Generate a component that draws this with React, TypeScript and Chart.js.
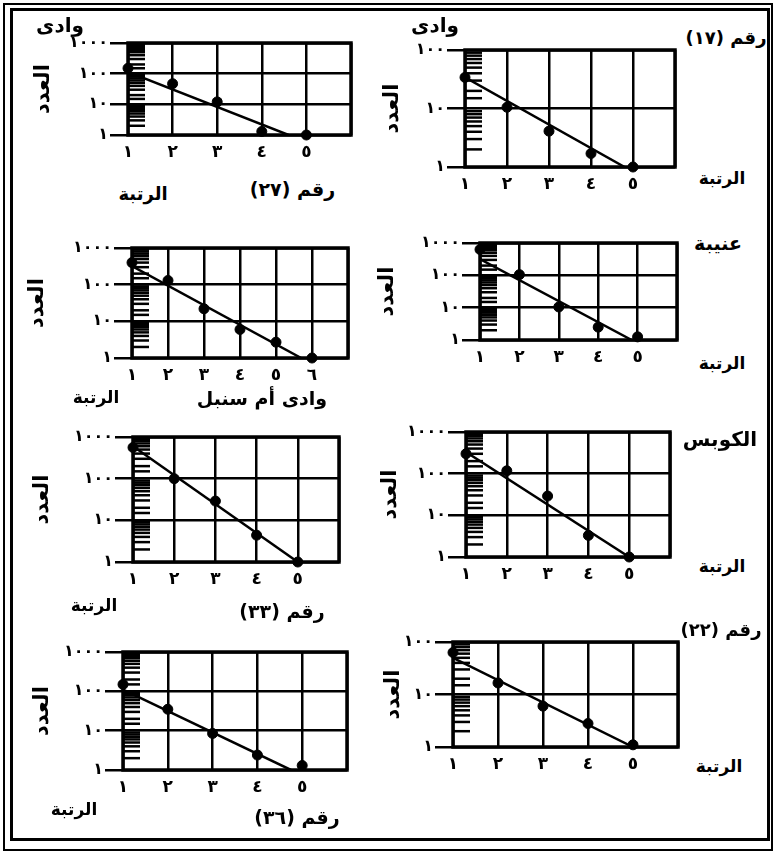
import React, { useEffect, useRef } from "react";
import { Chart, registerables } from "chart.js";

Chart.register(...registerables);

const FONT = '"DejaVu Sans", sans-serif';

// ---------- data ----------
const ranks5 = [1, 2, 3, 4, 5];
const ranks6 = [1, 2, 3, 4, 5, 6];

const no27Counts = [150, 47, 12, 1.3, 1];
const no27FitRanks = [1, 4.6];
const no27FitCounts = [115, 1];

const no17Counts = [34, 10.5, 4.1, 1.7, 1];
const no17FitRanks = [1, 4.8];
const no17FitCounts = [34, 1];

const umSinbilCounts = [400, 130, 22, 6, 2.7, 1];
const umSinbilFitRanks = [1, 5.7];
const umSinbilFitCounts = [320, 1];

const unaibaCounts = [630, 105, 10.5, 2.5, 1.25];
const unaibaFitRanks = [1, 4.85];
const unaibaFitCounts = [320, 1];

const no33Counts = [560, 100, 29, 4.4, 1];
const no33FitRanks = [1, 5];
const no33FitCounts = [600, 1];

const kubsCounts = [300, 117, 29, 3.3, 1];
const kubsFitRanks = [1, 5];
const kubsFitCounts = [330, 1];

const no36Counts = [150, 35, 8.5, 2.4, 1.3];
const no36FitRanks = [1, 4.75];
const no36FitCounts = [110, 1];

const no22Counts = [63, 16.6, 6, 2.8, 1.1];
const no22FitRanks = [1, 5];
const no22FitCounts = [50, 1];

const yAxisTitle = "العدد";
const xAxisTitle = "الرتبة";

// ---------- layout ----------
const PAD_T = 14;
const PAD_R = 8;
const XH = 36;

type PanelCfg = {
  ranks: number[];
  counts: number[];
  fitRanks: number[];
  fitCounts: number[];
  yMax: number;
  xMax: number;
  l: number;
  t: number;
  r: number;
  b: number;
  dist: number;
};

const panels: PanelCfg[] = [
  { ranks: ranks5, counts: no27Counts, fitRanks: no27FitRanks, fitCounts: no27FitCounts, yMax: 1000, xMax: 6, l: 128, t: 43, r: 351, b: 135, dist: 85 },
  { ranks: ranks5, counts: no17Counts, fitRanks: no17FitRanks, fitCounts: no17FitCounts, yMax: 100, xMax: 6, l: 465, t: 50, r: 675, b: 167, dist: 73 },
  { ranks: ranks6, counts: umSinbilCounts, fitRanks: umSinbilFitRanks, fitCounts: umSinbilFitCounts, yMax: 1000, xMax: 7, l: 132, t: 248, r: 348, b: 358, dist: 95 },
  { ranks: ranks5, counts: unaibaCounts, fitRanks: unaibaFitRanks, fitCounts: unaibaFitCounts, yMax: 1000, xMax: 6, l: 480, t: 243, r: 677, b: 340, dist: 93 },
  { ranks: ranks5, counts: no33Counts, fitRanks: no33FitRanks, fitCounts: no33FitCounts, yMax: 1000, xMax: 6, l: 133, t: 437, r: 339, b: 562, dist: 91 },
  { ranks: ranks5, counts: kubsCounts, fitRanks: kubsFitRanks, fitCounts: kubsFitCounts, yMax: 1000, xMax: 6, l: 466, t: 432, r: 670, b: 557, dist: 76 },
  { ranks: ranks5, counts: no36Counts, fitRanks: no36FitRanks, fitCounts: no36FitCounts, yMax: 1000, xMax: 6, l: 123, t: 652, r: 347, b: 770, dist: 81 },
  { ranks: ranks5, counts: no22Counts, fitRanks: no22FitRanks, fitCounts: no22FitCounts, yMax: 100, xMax: 6, l: 453, t: 642, r: 678, b: 747, dist: 60 },
];

const texts = [
  { text: "وادى", left: 35, top: 12, width: 50, height: 26, size: 20 },
  { text: "رقم (٢٧)", left: 245, top: 175, width: 95, height: 28, size: 19 },
  { text: xAxisTitle, left: 112, top: 181, width: 62, height: 26, size: 18 },

  { text: "وادى", left: 393, top: 12, width: 84, height: 26, size: 20 },
  { text: "رقم (١٧)", left: 684, top: 24, width: 84, height: 28, size: 18 },
  { text: xAxisTitle, left: 698, top: 166, width: 48, height: 24, size: 17 },

  { text: xAxisTitle, left: 72, top: 384, width: 48, height: 26, size: 17 },
  { text: "وادى أم سنبل", left: 178, top: 383, width: 168, height: 30, size: 19 },

  { text: "عنيبة", left: 690, top: 230, width: 56, height: 26, size: 19 },
  { text: xAxisTitle, left: 698, top: 351, width: 48, height: 24, size: 17 },

  { text: xAxisTitle, left: 70, top: 593, width: 48, height: 24, size: 17 },
  { text: "رقم (٣٣)", left: 228, top: 597, width: 108, height: 28, size: 19 },

  { text: "الكوبس", left: 674, top: 425, width: 92, height: 28, size: 20 },
  { text: xAxisTitle, left: 698, top: 554, width: 48, height: 24, size: 17 },

  { text: xAxisTitle, left: 48, top: 797, width: 52, height: 24, size: 17 },
  { text: "رقم (٣٦)", left: 245, top: 803, width: 104, height: 28, size: 19 },

  { text: "رقم (٢٢)", left: 676, top: 614, width: 90, height: 32, size: 18 },
  { text: xAxisTitle, left: 695, top: 754, width: 48, height: 24, size: 17 },
];

// ---------- helpers ----------
const AR_DIGITS = "٠١٢٣٤٥٦٧٨٩";
const toArabic = (v: number) => String(v).replace(/\d/g, (d) => AR_DIGITS[Number(d)]);
const isPow10 = (v: number) => {
  if (!(v > 0)) return false;
  const l = Math.log10(v);
  return Math.abs(l - Math.round(l)) < 1e-6;
};

const framePlugin = {
  id: "frameHash",
  beforeDatasetsDraw(chart: any) {
    const { ctx, chartArea } = chart;
    const y = chart.scales.y;
    ctx.save();
    ctx.strokeStyle = "#000";
    ctx.lineWidth = 2.5;
    for (const tk of y.ticks) {
      if (isPow10(tk.value)) continue;
      const py = y.getPixelForValue(tk.value);
      ctx.beginPath();
      ctx.moveTo(chartArea.left, py);
      ctx.lineTo(chartArea.left + 17, py);
      ctx.stroke();
    }
    ctx.restore();
  },
  afterDatasetsDraw(chart: any) {
    const { ctx, chartArea } = chart;
    ctx.save();
    ctx.strokeStyle = "#000";
    ctx.lineWidth = 3.5;
    ctx.strokeRect(chartArea.left, chartArea.top, chartArea.right - chartArea.left, chartArea.bottom - chartArea.top);
    ctx.restore();
  },
};

function Panel({ cfg }: { cfg: PanelCfg }) {
  const ref = useRef<HTMLCanvasElement | null>(null);
  const yw = cfg.dist + 12;
  const w = yw + (cfg.r - cfg.l) + PAD_R;
  const h = PAD_T + (cfg.b - cfg.t) + XH;

  useEffect(() => {
    if (!ref.current) return;
    const chart = new Chart(ref.current, {
      type: "scatter",
      data: {
        datasets: [
          {
            data: cfg.ranks.map((x, i) => ({ x, y: cfg.counts[i] })),
            showLine: false,
            pointRadius: 5,
            pointBackgroundColor: "#000",
            pointBorderColor: "#000",
            clip: false,
          } as any,
          {
            data: cfg.fitRanks.map((x, i) => ({ x, y: cfg.fitCounts[i] })),
            showLine: true,
            pointRadius: 0,
            borderColor: "#000",
            borderWidth: 2.5,
          } as any,
        ],
      },
      options: {
        animation: false,
        responsive: false,
        maintainAspectRatio: false,
        layout: { padding: { top: PAD_T, right: PAD_R, left: 0, bottom: 0 } },
        plugins: { legend: { display: false }, tooltip: { enabled: false } },
        scales: {
          x: {
            type: "linear",
            min: 1,
            max: cfg.xMax,
            afterFit: (s: any) => {
              s.height = XH;
            },
            border: { display: false },
            grid: { color: "#000", lineWidth: 2.5, drawTicks: false },
            ticks: {
              stepSize: 1,
              autoSkip: false,
              maxRotation: 0,
              padding: 7,
              color: "#000",
              font: { family: FONT, size: 17, weight: "bold" },
              callback: (v: any) => (Number(v) < cfg.xMax ? toArabic(Number(v)) : ""),
            },
          },
          y: {
            type: "logarithmic",
            min: 1,
            max: cfg.yMax,
            afterFit: (s: any) => {
              s.width = yw;
            },
            border: { display: false },
            grid: {
              color: (c: any) => (isPow10(c.tick?.value) ? "#000" : "rgba(0,0,0,0)"),
              tickColor: (c: any) => (isPow10(c.tick?.value) ? "#000" : "rgba(0,0,0,0)"),
              lineWidth: 2.5,
              drawTicks: true,
              tickLength: 18,
            },
            ticks: {
              autoSkip: false,
              padding: 2,
              color: "#000",
              font: { family: FONT, size: 16, weight: "bold" },
              callback: (v: any) => (isPow10(Number(v)) ? toArabic(Number(v)) : ""),
            },
            title: {
              display: true,
              text: yAxisTitle,
              color: "#000",
              padding: 0,
              font: { family: FONT, size: 21, weight: "bold" },
            },
          },
        },
      } as any,
      plugins: [framePlugin],
    });
    return () => chart.destroy();
  }, [cfg]);

  return (
    <canvas
      ref={ref}
      width={w}
      height={h}
      style={{ position: "absolute", left: cfg.l - yw, top: cfg.t - PAD_T, width: w, height: h }}
    />
  );
}

export default function App() {
  return (
    <div
      style={{
        position: "absolute",
        left: 0,
        top: 0,
        width: 773,
        height: 852,
        background: "#fff",
        overflow: "hidden",
        fontFamily: FONT,
      }}
    >
      <div style={{ position: "absolute", left: 3, top: 3, width: 766, height: 844, border: "2px solid #000" }} />
      <div style={{ position: "absolute", left: 10, top: 8, width: 754, height: 827, border: "3px solid #000" }} />
      {panels.map((p, i) => (
        <Panel key={i} cfg={p} />
      ))}
      {texts.map((t, i) => (
        <div
          key={i}
          dir="rtl"
          style={{
            position: "absolute",
            left: t.left,
            top: t.top,
            width: t.width,
            height: t.height,
            display: "flex",
            alignItems: "center",
            justifyContent: "center",
            fontSize: t.size,
            fontWeight: "bold",
            color: "#000",
            whiteSpace: "nowrap",
            lineHeight: 1,
          }}
        >
          {t.text}
        </div>
      ))}
    </div>
  );
}
